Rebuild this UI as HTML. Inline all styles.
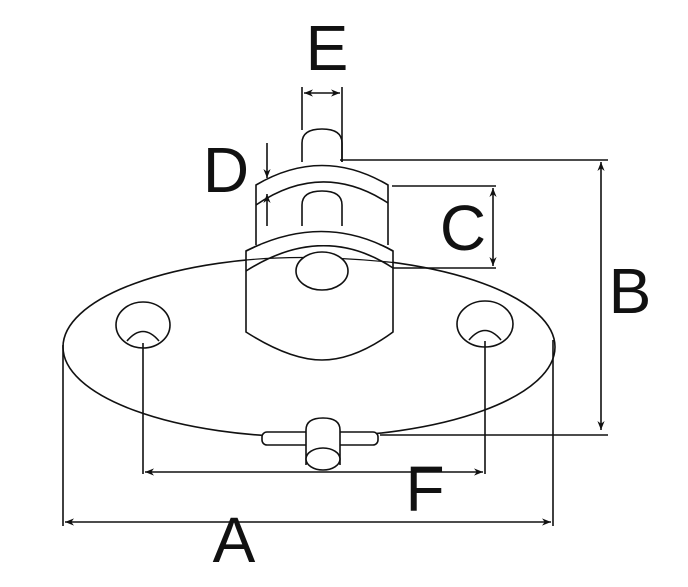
<!DOCTYPE html>
<html><head><style>body{margin:0;background:#fff}svg{display:block}</style></head><body>
<svg width="688" height="587" viewBox="0 0 688 587" xmlns="http://www.w3.org/2000/svg">
<defs>
<marker id="ar" viewBox="0 0 10 10" refX="10" refY="5" markerWidth="9" markerHeight="9" orient="auto-start-reverse" markerUnits="userSpaceOnUse"><path d="M0,1 L10,5 L0,9 L3,5z" fill="#111"/></marker>
</defs>
<g fill="none" stroke="#111" stroke-width="1.6">
<!-- base -->
<ellipse cx="309" cy="347" rx="246" ry="90" fill="#fff"/>
<ellipse cx="143" cy="325" rx="27" ry="23"/>
<path d="M127,341 Q143,322 159,341"/>
<ellipse cx="485" cy="324" rx="28" ry="23"/>
<path d="M469,340 Q485,321 501,340"/>
<!-- body -->
<path d="M246,251 L246,332 Q290,360 322,360 Q355,360 393,332 L393,251 Q323,212 246,251 Z" fill="#fff"/>
<path d="M246,260 Q309,254 393,262.5" stroke-width="1.2"/>
<path d="M246,271 Q323,222 393,268"/>
<ellipse cx="322" cy="271" rx="26" ry="19" fill="#fff"/>
<!-- upper disk -->
<path d="M256,245 L256,185 Q322,146 388,185 L388,245" fill="#fff"/>
<path d="M256,205 Q322,160 388,203"/>
<path d="M246,251 Q323,212 393,251" />
<path d="M302,226 L302,205 Q302,191 322,191 Q342,191 342,205 L342,226"/>
<!-- top post -->
<path d="M302,162 L302,143 Q302,129 322,129 Q342,129 342,143 L342,162"/>
<!-- pin -->
<rect x="262" y="432" width="116" height="13" rx="5" fill="#fff"/>
<path d="M306,465 L306,430 Q306,418 323,418 Q340,418 340,430 L340,465" fill="#fff"/>
<ellipse cx="323" cy="459" rx="17" ry="11" fill="#fff"/>
<!-- dims -->
<line x1="302" y1="87" x2="302" y2="130"/>
<line x1="342" y1="87" x2="342" y2="162"/>
<line x1="304" y1="93" x2="340" y2="93" marker-start="url(#ar)" marker-end="url(#ar)"/>
<line x1="340" y1="160" x2="608" y2="160"/>
<line x1="380" y1="435" x2="608" y2="435"/>
<line x1="601" y1="162" x2="601" y2="430" marker-start="url(#ar)" marker-end="url(#ar)"/>
<line x1="392" y1="186" x2="496" y2="186"/>
<line x1="393" y1="268" x2="496" y2="268"/>
<line x1="493" y1="188" x2="493" y2="266" marker-start="url(#ar)" marker-end="url(#ar)"/>
<line x1="267" y1="143" x2="267" y2="178" marker-end="url(#ar)"/>
<line x1="267" y1="226" x2="267" y2="194" marker-end="url(#ar)"/>
<line x1="143" y1="343" x2="143" y2="474"/>
<line x1="485" y1="341" x2="485" y2="474"/>
<line x1="145" y1="472" x2="483" y2="472" marker-start="url(#ar)" marker-end="url(#ar)"/>
<line x1="63" y1="345" x2="63" y2="526"/>
<line x1="553" y1="340" x2="553" y2="526"/>
<line x1="65" y1="522" x2="551" y2="522" marker-start="url(#ar)" marker-end="url(#ar)"/>
</g>
<g font-family="Liberation Sans, sans-serif" font-size="64" fill="#111" text-anchor="middle">
<text x="327" y="70">E</text>
<text x="226" y="192">D</text>
<text x="463" y="250">C</text>
<text x="630" y="313">B</text>
<text x="425" y="511">F</text>
<text x="234" y="562">A</text>
</g>
</svg>
</body></html>
